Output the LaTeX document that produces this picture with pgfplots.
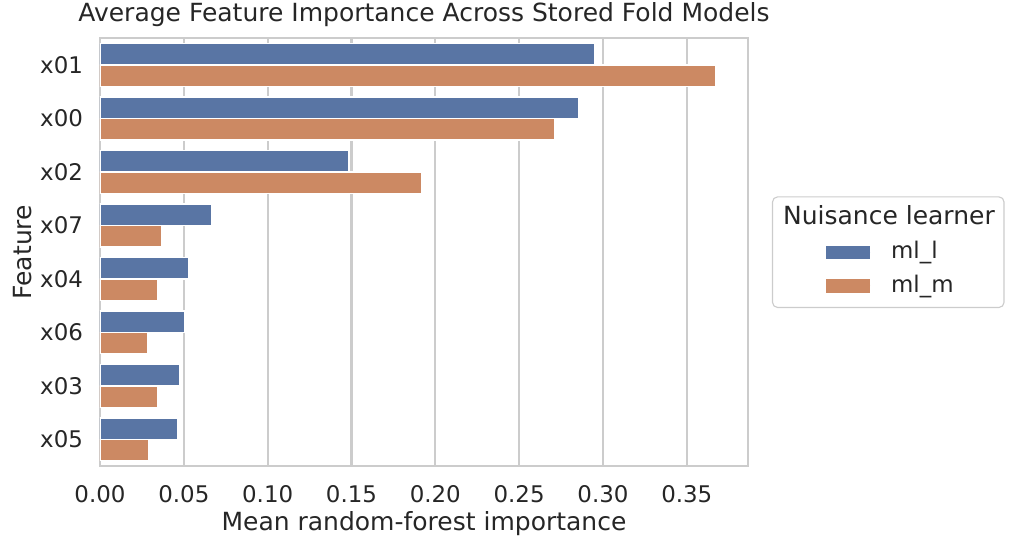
\documentclass[border=0pt]{standalone}
\usepackage{pgfplots}
\pgfplotsset{compat=1.18}
\usepackage{pgfplotstable}
\usepackage{fontspec}
\setmainfont{DejaVu Sans}
\definecolor{textc}{HTML}{262626}
\definecolor{gridc}{HTML}{CCCCCC}
\definecolor{bblue}{HTML}{5975A4}
\definecolor{borange}{HTML}{CC8963}
\newcommand\tickfont{\fontsize{16.5}{19.8}\selectfont}
\newcommand\labfont{\fontsize{18}{21.6}\selectfont}
\pgfplotstableread{
idx mll mlm
0 0.2950 0.3673
1 0.2858 0.2714
2 0.1484 0.1921
3 0.0668 0.0370
4 0.0531 0.0346
5 0.0507 0.0286
6 0.0477 0.0346
7 0.0465 0.0292
}\datatab
\begin{document}
{\color{textc}%
\begin{tikzpicture}
\begin{axis}[
  at={(72pt,57.6pt)}, anchor=south west,
  scale only axis, width=466.56pt, height=307.9pt,
  xmin=0, xmax=0.3865, ymin=-0.5, ymax=7.5, y dir=reverse,
  xbar, bar width=0.4,
  xtick={0,0.05,0.1,0.15,0.2,0.25,0.3,0.35},
  xticklabels={0.00,0.05,0.10,0.15,0.20,0.25,0.30,0.35},
  ytick={0,1,2,3,4,5,6,7},
  yticklabels={x01,x00,x02,x07,x04,x06,x03,x05},
  major tick length=0pt, tick style={draw=none},
  xmajorgrids, ymajorgrids=false,
  grid style={gridc, line width=1.5pt},
  axis line style={gridc, line width=1.6pt},
  ticklabel style={font=\tickfont, text=textc},
  xticklabel style={anchor=north, inner sep=0pt, yshift=-13.7pt},
  yticklabel style={anchor=east, inner sep=0pt, xshift=-12.1pt},
  title={Average Feature Importance Across Stored Fold Models},
  title style={font=\labfont, text=textc, anchor=base, at={(axis description cs:0.5,1.0211)}, inner sep=0pt},
  xlabel={Mean random-forest importance},
  xlabel style={font=\labfont, text=textc, anchor=base, at={(axis description cs:0.5,-0.1513)}, inner sep=0pt},
  ylabel={Feature},
  ylabel style={font=\labfont, text=textc, anchor=base, at={(axis description cs:-0.1055,0.5)}, inner sep=0pt},
  legend style={at={(1.037,0.5)}, anchor=west, draw=gridc, line width=0.8pt,
    rounded corners=3.6pt, fill=white, inner xsep=6.6pt, inner ysep=7pt,
    font=\tickfont, text=textc, row sep=7.3pt, column sep=14.4pt,
    nodes={inner sep=0pt, text height=13pt, text depth=4pt}},
  legend cell align=left,
  legend image code/.code={\path[sharp corners] (0pt,0pt) -- (63.4pt,0pt);
    \fill[#1, draw=none, sharp corners] (31.7pt,-4.8pt) rectangle (63.4pt,4.8pt);},
]
\addlegendimage{empty legend}
\addlegendentry{\hspace*{-77.8pt}\labfont Nuisance learner}
\addplot[xbar, fill=bblue, draw=white, line width=1pt, bar shift=-0.2] table[x=mll, y=idx] {\datatab};
\addlegendentry{ml\_l}
\addplot[xbar, fill=borange, draw=white, line width=1pt, bar shift=0.2] table[x=mlm, y=idx] {\datatab};
\addlegendentry{ml\_m}
\end{axis}
\pgfresetboundingbox
\path (0,0) rectangle (728.64pt,393.12pt);
\end{tikzpicture}}
\end{document}
